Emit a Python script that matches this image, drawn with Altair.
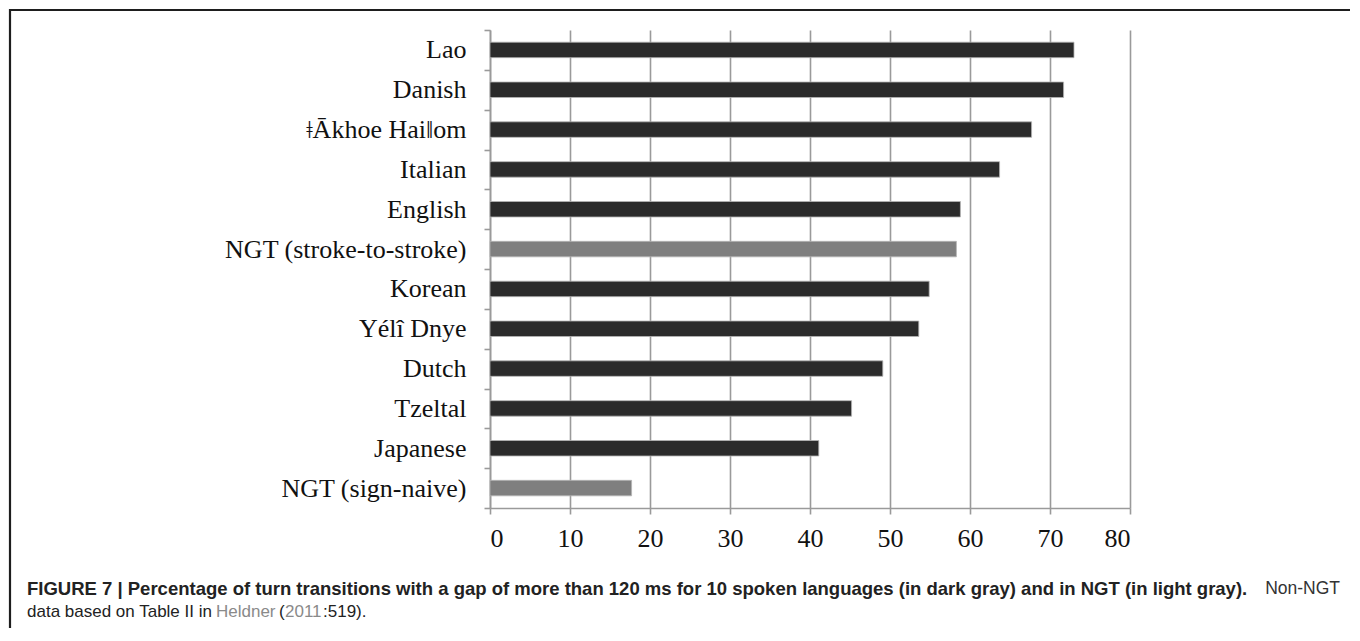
import altair as alt
import pandas as pd

# ---- data ----
languages = ["Lao", "Danish", "ǂĀkhoe Haiǁom", "Italian", "English",
             "NGT (stroke-to-stroke)", "Korean", "Yélî Dnye", "Dutch",
             "Tzeltal", "Japanese", "NGT (sign-naive)"]
percent = [73.0, 71.7, 67.7, 63.7, 58.8, 58.3, 54.9, 53.6, 49.1, 45.2, 41.1, 17.7]
group = ["spoken", "spoken", "spoken", "spoken", "spoken", "NGT",
         "spoken", "spoken", "spoken", "spoken", "spoken", "NGT"]
x_ticks = [0, 10, 20, 30, 40, 50, 60, 70, 80]

caption_bold = ("FIGURE 7 | Percentage of turn transitions with a gap of more than 120 ms "
                "for 10 spoken languages (in dark gray) and in NGT (in light gray).")
caption_reg = "Non-NGT"
line2_parts = ["data based on Table II in", "Heldner", "(", "2011", ":519)."]
line2_colors = ["#222222", "#8a8a8a", "#222222", "#8a8a8a", "#222222"]
line2_x = [27, 216, 279, 285, 323]

df = pd.DataFrame({"language": languages, "percent": percent, "group": group})

FONT_SERIF = "Liberation Serif"
FONT_SANS = "Liberation Sans"
OX, OY = 490, 30  # plot origin on the page

bars = alt.Chart(df).mark_bar(height=15.5, stroke="#b5b5b5", strokeWidth=0.8).encode(
    x=alt.X("percent:Q",
            scale=alt.Scale(domain=[0, 80], nice=False, zero=True),
            axis=alt.Axis(values=x_ticks, title=None, grid=True,
                          gridColor="#9a9a9a", gridWidth=1.6,
                          domainColor="#9a9a9a", domainWidth=1.6,
                          tickColor="#9a9a9a", tickWidth=1.6, tickSize=6,
                          labelFont=FONT_SERIF, labelFontSize=26,
                          labelColor="#111111", labelPadding=11)),
    y=alt.Y("language:N", sort=languages,
            scale=alt.Scale(paddingInner=0, paddingOuter=0),
            axis=alt.Axis(title=None, grid=False, tickBand="extent",
                          domainColor="#9a9a9a", domainWidth=1.6,
                          tickColor="#9a9a9a", tickWidth=1.6, tickSize=6,
                          labelFont=FONT_SERIF, labelFontSize=26, labelLimit=0,
                          labelColor="#111111", labelPadding=18)),
    color=alt.Color("group:N",
                    scale=alt.Scale(domain=["spoken", "NGT"],
                                    range=["#2b2b2b", "#7f7f7f"]),
                    legend=None),
)

box = alt.Chart(pd.DataFrame({"k": [0]})).mark_rect(
    fillOpacity=0, stroke="#1e1e1e", strokeWidth=2.2
).encode(
    x=alt.value(10 - OX), x2=alt.value(1357 - OX),
    y=alt.value(10 - OY), y2=alt.value(700),
)

cap1 = alt.Chart(pd.DataFrame({"t": [caption_bold]})).mark_text(
    font=FONT_SANS, fontSize=18.5, fontWeight="bold", align="left",
    baseline="middle", color="#222222"
).encode(text="t:N", x=alt.value(27 - OX), y=alt.value(589 - OY))

cap1b = alt.Chart(pd.DataFrame({"t": [caption_reg]})).mark_text(
    font=FONT_SANS, fontSize=17.5, align="right",
    baseline="middle", color="#333333"
).encode(text="t:N", x=alt.value(1340 - OX), y=alt.value(589 - OY))

cap2_layers = []
for txt, col, xx in zip(line2_parts, line2_colors, line2_x):
    cap2_layers.append(
        alt.Chart(pd.DataFrame({"t": [txt]})).mark_text(
            font=FONT_SANS, fontSize=17, align="left",
            baseline="middle", color=col
        ).encode(text="t:N", x=alt.value(xx - OX), y=alt.value(612 - OY))
    )

chart = alt.layer(box, bars, cap1, cap1b, *cap2_layers).properties(
    width=640, height=478,
    autosize=alt.AutoSizeParams(type="none"),
    padding={"left": 482, "top": 22, "right": 220, "bottom": 120},
).configure_view(stroke=None)

chart.save("out.html", embed_options={"renderer": "svg", "actions": False})
